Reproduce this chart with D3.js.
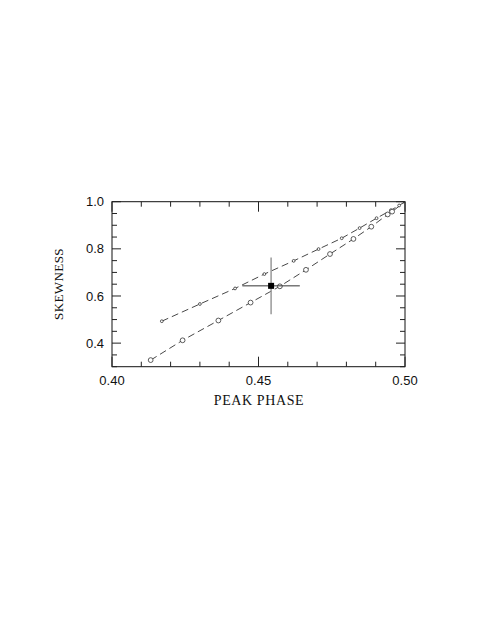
<!DOCTYPE html>
<html>
<head>
<meta charset="utf-8">
<script src="https://cdn.jsdelivr.net/npm/d3@7"></script>
<style>
  html, body { margin: 0; padding: 0; background: #fff; }
  svg { display: block; }
</style>
</head>
<body>
<svg id="chart" width="480" height="621"></svg>
<script>
// ---- data ----
const upperPhase = [0.417, 0.430, 0.442, 0.452, 0.462, 0.4705, 0.4784, 0.4845, 0.4903, 0.4952, 0.4980, 0.500];
const upperSkew  = [0.493, 0.566, 0.632, 0.693, 0.749, 0.799, 0.845, 0.888, 0.930, 0.964, 0.984, 1.000];
const lowerPhase = [0.4132, 0.4241, 0.4363, 0.4473, 0.4573, 0.4662, 0.4744, 0.4824, 0.4885, 0.4941, 0.4956, 0.500];
const lowerSkew  = [0.328, 0.412, 0.496, 0.572, 0.641, 0.711, 0.778, 0.842, 0.894, 0.946, 0.958, 1.000];
const obsPhase = 0.4543, obsPhaseErr = 0.0098;
const obsSkew = 0.643, obsSkewErr = 0.12;
const xTickLabels = ["0.40", "0.45", "0.50"];
const yTickLabels = ["0.4", "0.6", "0.8", "1.0"];
const xTitle = "PEAK PHASE";
const yTitle = "SKEWNESS";

// ---- layout ----
const svg = d3.select("#chart");
const L = 112, R = 405, T = 201.7, B = 366.7;
const x = d3.scaleLinear().domain([0.40, 0.50]).range([L, R]);
const y = d3.scaleLinear().domain([0.30, 1.00]).range([B, T]);

// frame
svg.append("rect").attr("x", L).attr("y", T).attr("width", R - L).attr("height", B - T)
  .attr("fill", "none").attr("stroke", "#111").attr("stroke-width", 1);

// ticks
const xMinor = d3.range(0, 11).map(i => 0.40 + i * 0.01);
const yMinor = d3.range(0, 15).map(i => 0.30 + i * 0.05);
const isMajX = v => Math.abs(v * 100 - Math.round(v * 20) * 5) < 1e-6;
const isMajY = v => Math.abs(v * 10 - Math.round(v * 5) * 2) < 1e-6 && v > 0.35;
const tg = svg.append("g").attr("stroke", "#222").attr("stroke-width", 1);
xMinor.forEach(v => {
  const len = isMajX(v) ? 10 : 5;
  const px = x(v);
  tg.append("line").attr("x1", px).attr("x2", px).attr("y1", B).attr("y2", B - len);
  tg.append("line").attr("x1", px).attr("x2", px).attr("y1", T).attr("y2", T + len);
});
yMinor.forEach(v => {
  const len = isMajY(v) ? 9 : 5;
  const py = y(v);
  tg.append("line").attr("x1", L).attr("x2", L + len).attr("y1", py).attr("y2", py);
  tg.append("line").attr("x1", R).attr("x2", R - len).attr("y1", py).attr("y2", py);
});

// tick labels
svg.append("g").selectAll("text").data(xTickLabels).join("text")
  .attr("x", d => x(+d)).attr("y", 384.5).attr("text-anchor", "middle")
  .attr("font-family", "Liberation Sans, Arial, sans-serif").attr("font-size", 13)
  .attr("fill", "#111").text(d => d);
svg.append("g").selectAll("text").data(yTickLabels).join("text")
  .attr("x", 104).attr("y", d => y(+d) + 4.6).attr("text-anchor", "end")
  .attr("font-family", "Liberation Sans, Arial, sans-serif").attr("font-size", 13)
  .attr("fill", "#111").text(d => d);

// axis titles
svg.append("text").attr("x", 259).attr("y", 405).attr("text-anchor", "middle")
  .attr("font-family", "Liberation Serif, Times New Roman, serif").attr("font-size", 14)
  .attr("letter-spacing", 0.6).attr("fill", "#111").text(xTitle);
svg.append("text").attr("transform", "translate(63,284) rotate(-90)").attr("text-anchor", "middle")
  .attr("font-family", "Liberation Serif, Times New Roman, serif").attr("font-size", 13)
  .attr("letter-spacing", 0.4).attr("fill", "#111").text(yTitle);

// series
const line = d3.line().x(d => x(d[0])).y(d => y(d[1]));
const upper = upperPhase.map((p, i) => [p, upperSkew[i]]);
const lower = lowerPhase.map((p, i) => [p, lowerSkew[i]]);
[upper, lower].forEach(data => {
  svg.append("path").datum(data).attr("d", line)
    .attr("fill", "none").attr("stroke", "#333").attr("stroke-width", 0.9)
    .attr("stroke-dasharray", "7,4");
});
svg.append("g").selectAll("circle").data(upper.slice(0, -1)).join("circle")
  .attr("cx", d => x(d[0])).attr("cy", d => y(d[1])).attr("r", 1.4)
  .attr("fill", "#fff").attr("stroke", "#333").attr("stroke-width", 0.8);
svg.append("g").selectAll("circle").data(lower.slice(0, -1)).join("circle")
  .attr("cx", d => x(d[0])).attr("cy", d => y(d[1])).attr("r", 2.4)
  .attr("fill", "#fff").attr("stroke", "#333").attr("stroke-width", 0.8);

// observed point with error bars
svg.append("line").attr("x1", x(obsPhase)).attr("x2", x(obsPhase))
  .attr("y1", y(obsSkew - obsSkewErr)).attr("y2", y(obsSkew + obsSkewErr))
  .attr("stroke", "#999").attr("stroke-width", 1.5);
svg.append("line").attr("x1", x(obsPhase - obsPhaseErr)).attr("x2", x(obsPhase + obsPhaseErr))
  .attr("y1", y(obsSkew)).attr("y2", y(obsSkew))
  .attr("stroke", "#333").attr("stroke-width", 1);
svg.append("rect").attr("x", x(obsPhase) - 3).attr("y", y(obsSkew) - 3)
  .attr("width", 6).attr("height", 6).attr("fill", "#000");
</script>
</body>
</html>
